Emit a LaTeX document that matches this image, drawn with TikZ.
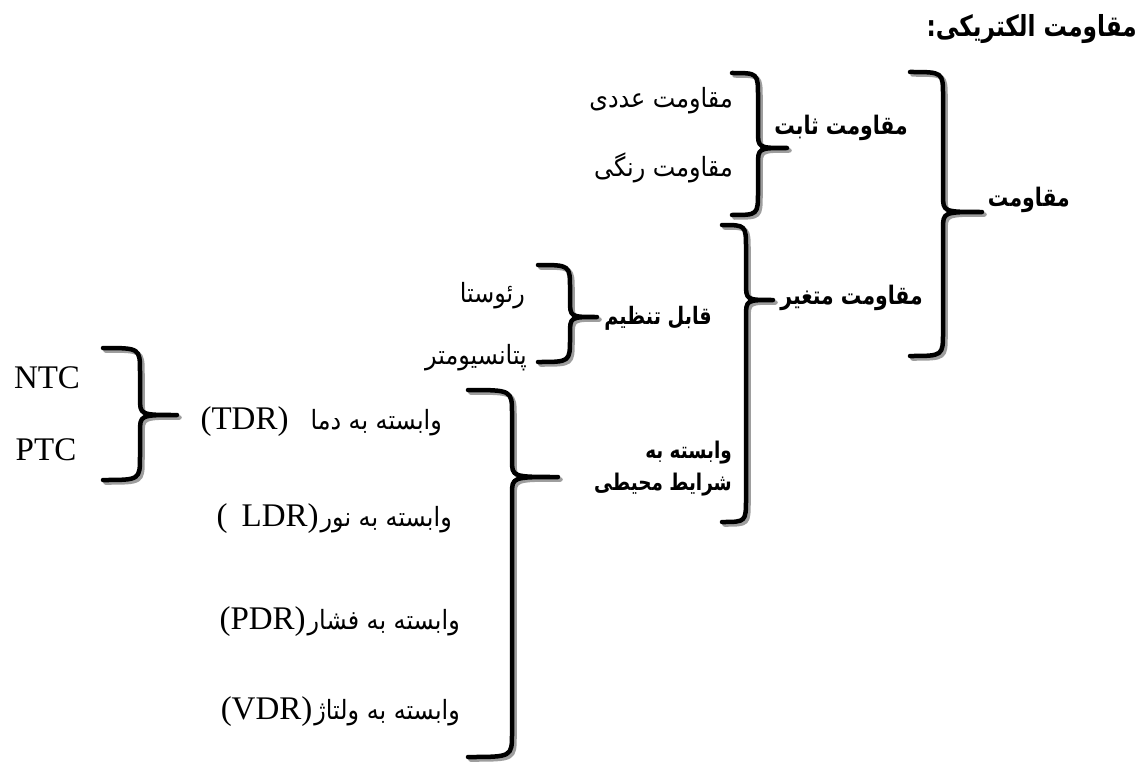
\documentclass[tikz,border=0pt]{standalone}
\usepackage{fontspec}
\setmainfont{Liberation Serif}
\newfontfamily\fa[Script=Arabic, FakeStretch=0.9]{DejaVu Sans}
\newfontfamily\fab[Script=Arabic, FakeStretch=0.8]{DejaVu Sans Bold}
\TeXXeTstate=1
\usetikzlibrary{positioning}

\tikzset{
  braceline/.style={line width=4.5pt, line cap=round, line join=round},
  braceshade/.style={braceline, draw=black!38, shift={(2.5,2.5)}},
  falabel/.style={inner sep=0pt, anchor=east, font=\fa\fontsize{26.5}{30}\selectfont},
  fabold/.style={inner sep=0pt, anchor=east, align=right, font=\fab\fontsize{25.5}{32}\selectfont},
  latinlabel/.style={inner sep=0pt, font=\fontsize{33}{36}\selectfont},
  mixlabel/.style={latinlabel, anchor=east},
}

% brace path: end x, spine x, tip x, top y, tip y, bottom y
\newcommand\bracepath[6]{(#1,#4) .. controls (#2,#4) .. (#2,#4+24) -- (#2,#5-17)
  .. controls (#2,#5) .. (#3,#5) .. controls (#2,#5) .. (#2,#5+17)
  -- (#2,#6-24) .. controls (#2,#6) .. (#1,#6)}
\newcommand\curly[6]{%
  \draw[braceshade] \bracepath{#1}{#2}{#3}{#4}{#5}{#6};
  \draw[braceline] \bracepath{#1}{#2}{#3}{#4}{#5}{#6};}
\newcommand\fatext[1]{{\fa\fontsize{26.5}{30}\selectfont\beginR #1\endR}}

\begin{document}
\begin{tikzpicture}[x=1pt,y=-1pt]
\useasboundingbox (0,0) rectangle (1142,762);

% title
\node[fabold, font=\fab\fontsize{29}{32}\selectfont] (title) at (1137,29) {\beginR مقاومت الکتریکی:\endR};

% braces
\curly{910}{943}{982}{72}{212}{356}
\curly{732}{758}{787}{73}{148}{215}
\curly{722}{746}{773}{225}{300}{522}
\curly{538}{570}{597}{265}{317}{362}
\curly{468}{512}{558}{390}{477}{757}
\curly{103}{140}{177}{348}{415}{480}

% level 1 and 2
\node[fabold] (res) at (1070,200) {\beginR مقاومت\endR};
\node[fabold] (fixed) at (908,128) {\beginR مقاومت ثابت\endR};
\node[fabold] (var) at (923,298) {\beginR مقاومت متغیر\endR};

% fixed
\node[falabel] (num) at (733,101) {\beginR مقاومت عددی\endR};
\node[falabel] (colour) at (733,168) {\beginR مقاومت رنگی\endR};

% variable
\node[fabold, font=\fab\fontsize{24}{32}\selectfont] (adj) at (712,318) {\beginR قابل تنظیم\endR};
\node[fabold, font=\fab\fontsize{23}{32}\selectfont] (env) at (732,469) {\beginR وابسته به\endR\\\beginR شرایط محیطی\endR};
\node[falabel] (rheo) at (525,296) {\beginR رئوستا\endR};
\node[falabel] (pot) at (527,358) {\beginR پتانسیومتر\endR};

% dependent
\node[mixlabel] (tdr) at (442,422) {(TDR)\hspace{22pt}\fatext{وابسته به دما}};
\node[mixlabel] (ldr) at (452,519) {(\hspace{14pt}LDR)\hspace{2pt}\fatext{وابسته به نور}};
\node[mixlabel] (pdr) at (460,622) {(PDR)\hspace{2pt}\fatext{وابسته به فشار}};
\node[mixlabel] (vdr) at (460,712) {(VDR)\hspace{2pt}\fatext{وابسته به ولتاژ}};

% temperature
\node[latinlabel] (ntc) at (47,378) {NTC};
\node[latinlabel] (ptc) at (46,450) {PTC};
\end{tikzpicture}
\end{document}
